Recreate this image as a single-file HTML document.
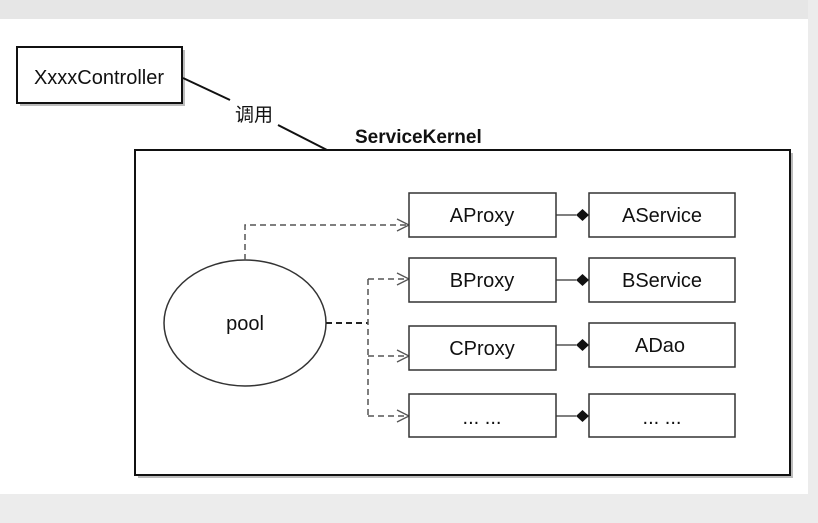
<!DOCTYPE html>
<html><head><meta charset="utf-8"><style>
body{margin:0;width:818px;height:523px;overflow:hidden;background:#fff;}
svg{display:block}
text{font-family:"Liberation Sans","Noto Sans CJK SC",sans-serif;fill:#111}
</style></head><body>
<svg width="818" height="523" viewBox="0 0 818 523">
<rect x="0" y="0" width="818" height="19" fill="#e6e6e6"/>
<rect x="0" y="494" width="818" height="29" fill="#ececec"/>
<rect x="808" y="0" width="10" height="523" fill="#ececec"/>
<!-- controller -->
<rect x="20" y="50" width="165" height="56" fill="#bbb"/>
<rect x="17" y="47" width="165" height="56" fill="#fff" stroke="#111" stroke-width="2"/>
<text x="99" y="84" font-size="20" text-anchor="middle">XxxxController</text>
<line x1="183" y1="78" x2="230" y2="100" stroke="#111" stroke-width="2"/>
<text x="254" y="121" font-size="19" text-anchor="middle">调用</text>
<line x1="278" y1="125" x2="327" y2="150" stroke="#111" stroke-width="2"/>
<text x="355" y="143" font-size="19" font-weight="bold">ServiceKernel</text>
<!-- main box -->
<rect x="138" y="153" width="655" height="325" fill="#bbb"/>
<rect x="135" y="150" width="655" height="325" fill="#fff" stroke="#111" stroke-width="2"/>
<!-- pool -->
<ellipse cx="245" cy="323" rx="81" ry="63" fill="#fff" stroke="#333" stroke-width="1.5"/>
<text x="245" y="330" font-size="20" text-anchor="middle">pool</text>
<g fill="none" stroke="#555" stroke-width="1.5" stroke-dasharray="6,4">
<path d="M245 260 V225 H409"/>
<path d="M326 323 H368" stroke="#222" stroke-width="2"/>
<path d="M368 279 V416"/>
<path d="M368 279 H409 M368 356 H409 M368 416 H409"/>
</g>
<g fill="none" stroke="#555" stroke-width="1.3">
<path d="M397 219 L409 225 L397 231"/>
<path d="M397 273 L409 279 L397 285"/>
<path d="M397 350 L409 356 L397 362"/>
<path d="M397 410 L409 416 L397 422"/>
</g>
<g fill="#fff" stroke="#333" stroke-width="1.5">
<rect x="409" y="193" width="147" height="44"/>
<rect x="589" y="193" width="146" height="44"/>
<rect x="409" y="258" width="147" height="44"/>
<rect x="589" y="258" width="146" height="44"/>
<rect x="409" y="326" width="147" height="44"/>
<rect x="589" y="323" width="146" height="44"/>
<rect x="409" y="394" width="147" height="43"/>
<rect x="589" y="394" width="146" height="43"/>
</g>
<g stroke="#333" stroke-width="1.3">
<line x1="556" y1="215" x2="576" y2="215"/>
<line x1="556" y1="280" x2="576" y2="280"/>
<line x1="556" y1="345" x2="576" y2="345"/>
<line x1="556" y1="416" x2="576" y2="416"/>
</g>
<g fill="#111">
<path d="M576 215 l6.5 -6 l6.5 6 l-6.5 6z"/>
<path d="M576 280 l6.5 -6 l6.5 6 l-6.5 6z"/>
<path d="M576 345 l6.5 -6 l6.5 6 l-6.5 6z"/>
<path d="M576 416 l6.5 -6 l6.5 6 l-6.5 6z"/>
</g>
<g font-size="20" text-anchor="middle">
<text x="482" y="222">AProxy</text>
<text x="662" y="222">AService</text>
<text x="482" y="287">BProxy</text>
<text x="662" y="287">BService</text>
<text x="482" y="355">CProxy</text>
<text x="660" y="352">ADao</text>
<text x="482" y="424">... ...</text>
<text x="662" y="424">... ...</text>
</g>
</svg>
</body></html>
